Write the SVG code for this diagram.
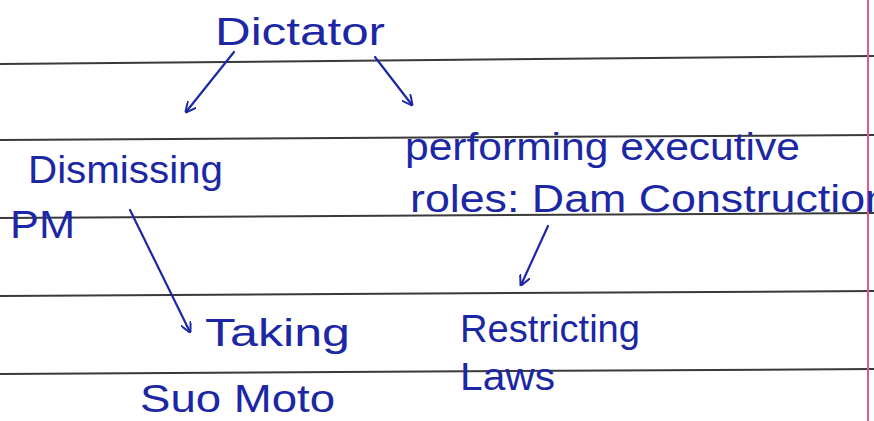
<svg xmlns="http://www.w3.org/2000/svg" width="874" height="421" viewBox="0 0 874 421">
<defs>
<style>
.rule{stroke:#3a3a3a;stroke-width:2;fill:none}
.ink{fill:#1c27a6;font-family:"Liberation Sans","DejaVu Sans",sans-serif;font-size:38px}
.conn{stroke:#1c27a6;stroke-width:2.2;fill:none;stroke-linecap:round}
</style>
<marker id="ah" viewBox="0 0 10 10" refX="9" refY="5" markerWidth="11" markerHeight="11" orient="auto" markerUnits="userSpaceOnUse">
<path d="M0,0 L10,5 L0,10" fill="none" stroke="#1c27a6" stroke-width="1.8"/>
</marker>
</defs>
<rect width="874" height="421" fill="#ffffff"/>
<g id="paper">
<line class="rule" x1="0" y1="64" x2="874" y2="56"/>
<line class="rule" x1="0" y1="140" x2="874" y2="135"/>
<line class="rule" x1="0" y1="218" x2="874" y2="213"/>
<line class="rule" x1="0" y1="296" x2="874" y2="291"/>
<line class="rule" x1="0" y1="374" x2="874" y2="369"/>
<line x1="868" y1="0" x2="868" y2="421" stroke="#e6559a" stroke-width="2"/>
</g>
<g id="connectors">
<line class="conn" x1="234" y1="52" x2="186" y2="112" marker-end="url(#ah)"/>
<line class="conn" x1="375" y1="57" x2="412" y2="105" marker-end="url(#ah)"/>
<line class="conn" x1="130" y1="210" x2="190" y2="332" marker-end="url(#ah)"/>
<line class="conn" x1="548" y1="226" x2="521" y2="285" marker-end="url(#ah)"/>
</g>
<g id="dictator"><text class="ink" x="215" y="45" textLength="170" lengthAdjust="spacingAndGlyphs">Dictator</text></g>
<g id="dismissing"><text class="ink" x="28" y="183" textLength="195" lengthAdjust="spacingAndGlyphs">Dismissing</text>
<text class="ink" x="10" y="238" textLength="65" lengthAdjust="spacingAndGlyphs">PM</text></g>
<g id="performing"><text class="ink" x="405" y="160" textLength="395" lengthAdjust="spacingAndGlyphs">performing executive</text>
<text class="ink" x="410" y="212" textLength="480" lengthAdjust="spacingAndGlyphs">roles: Dam Construction</text></g>
<g id="taking"><text class="ink" x="205" y="346" textLength="145" lengthAdjust="spacingAndGlyphs">Taking</text>
<text class="ink" x="140" y="412" textLength="195" lengthAdjust="spacingAndGlyphs">Suo Moto</text></g>
<g id="restricting"><text class="ink" x="460" y="342" textLength="180" lengthAdjust="spacingAndGlyphs">Restricting</text>
<text class="ink" x="460" y="390" textLength="95" lengthAdjust="spacingAndGlyphs">Laws</text></g>
</svg>
